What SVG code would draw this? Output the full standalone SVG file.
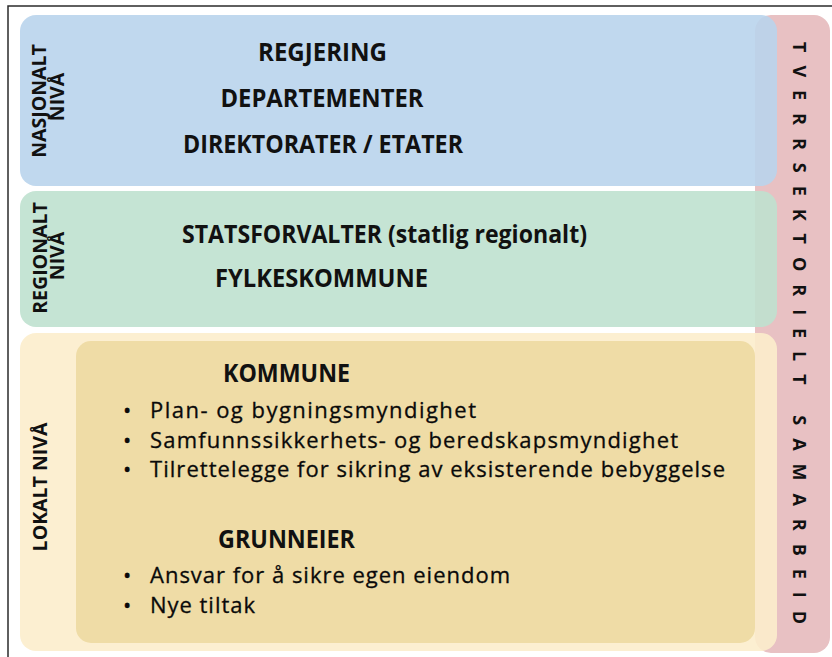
<svg xmlns="http://www.w3.org/2000/svg" width="832" height="657" viewBox="0 0 832 657">
  <style>
    .frame { fill: none; stroke: #2b2b2b; stroke-width: 1.5; }
    .head { font-family: "Open Sans", "Liberation Sans", sans-serif; font-weight: 700; font-size: 24.5px; fill: #111111; }
    .side { font-family: "Open Sans", "Liberation Sans", sans-serif; font-weight: 700; font-size: 19.5px; fill: #111111; }
    .body { font-family: "Open Sans", "Liberation Sans", sans-serif; font-weight: 400; font-size: 22px; fill: #0a0a0a; stroke: #0a0a0a; stroke-width: 0.3; }
    .band { font-family: "Open Sans", "Liberation Sans", sans-serif; font-weight: 700; font-size: 18px; fill: #111111; letter-spacing: 10px; }
    .mid { text-anchor: middle; }
  </style>

  <rect width="832" height="657" fill="#ffffff"/>
  <!-- outer frame (cut at the right and bottom) -->
  <path class="frame" d="M8,657 V6 H832"/>

  <!-- cross-sector band behind the three levels -->
  <g id="tverrsektorielt">
    <rect x="755" y="15" width="75" height="638" rx="16" fill="#e8c1c3"/>
    <text class="band" transform="translate(793,42) rotate(90)" textLength="592" lengthAdjust="spacing">TVERRSEKTORIELT SAMARBEID</text>
  </g>

  <!-- national level -->
  <g id="nasjonalt">
    <rect x="20" y="15" width="757" height="171" rx="16" fill="#b9d4ec" fill-opacity="0.9"/>
    <text class="side mid" transform="translate(46,101) rotate(-90)">NASJONALT</text>
    <text class="side mid" transform="translate(64,97) rotate(-90)">NIVÅ</text>
    <text class="head mid" x="322.5" y="61" textLength="129" lengthAdjust="spacingAndGlyphs">REGJERING</text>
    <text class="head mid" x="322" y="107" textLength="203" lengthAdjust="spacingAndGlyphs">DEPARTEMENTER</text>
    <text class="head mid" x="323" y="153" textLength="280" lengthAdjust="spacingAndGlyphs">DIREKTORATER / ETATER</text>
  </g>

  <!-- regional level -->
  <g id="regionalt">
    <rect x="20" y="191" width="757" height="136" rx="16" fill="#bfe1cf" fill-opacity="0.9"/>
    <text class="side mid" transform="translate(47,258) rotate(-90)">REGIONALT</text>
    <text class="side mid" transform="translate(64,256) rotate(-90)">NIVÅ</text>
    <text class="head" x="182" y="243" textLength="405" lengthAdjust="spacingAndGlyphs">STATSFORVALTER (statlig regionalt)</text>
    <text class="head mid" x="321.5" y="287" textLength="213" lengthAdjust="spacingAndGlyphs">FYLKESKOMMUNE</text>
  </g>

  <!-- local level -->
  <g id="lokalt">
    <rect x="20" y="333" width="757" height="318" rx="16" fill="#fcedcc" fill-opacity="0.9"/>
    <text class="side mid" transform="translate(47,487) rotate(-90)">LOKALT NIVÅ</text>
  </g>

  <!-- municipality and landowner responsibilities -->
  <g id="kommune-grunneier">
    <rect x="76" y="341" width="679" height="302" rx="15" fill="#efdca6"/>
    <text class="head mid" x="286.5" y="382" textLength="127" lengthAdjust="spacingAndGlyphs">KOMMUNE</text>
    <text class="body" x="123" y="418">•</text>
    <text class="body" x="150" y="418" textLength="326" lengthAdjust="spacing">Plan- og bygningsmyndighet</text>
    <text class="body" x="123" y="448">•</text>
    <text class="body" x="150" y="448" textLength="528" lengthAdjust="spacing">Samfunnssikkerhets- og beredskapsmyndighet</text>
    <text class="body" x="123" y="477">•</text>
    <text class="body" x="150" y="477" textLength="575" lengthAdjust="spacing">Tilrettelegge for sikring av eksisterende bebyggelse</text>
    <text class="head mid" x="286.5" y="548" textLength="137" lengthAdjust="spacingAndGlyphs">GRUNNEIER</text>
    <text class="body" x="123" y="583">•</text>
    <text class="body" x="150" y="583" textLength="360" lengthAdjust="spacing">Ansvar for å sikre egen eiendom</text>
    <text class="body" x="123" y="613">•</text>
    <text class="body" x="150" y="613" textLength="105" lengthAdjust="spacing">Nye tiltak</text>
  </g>

  <g id="connectors"/>
</svg>
